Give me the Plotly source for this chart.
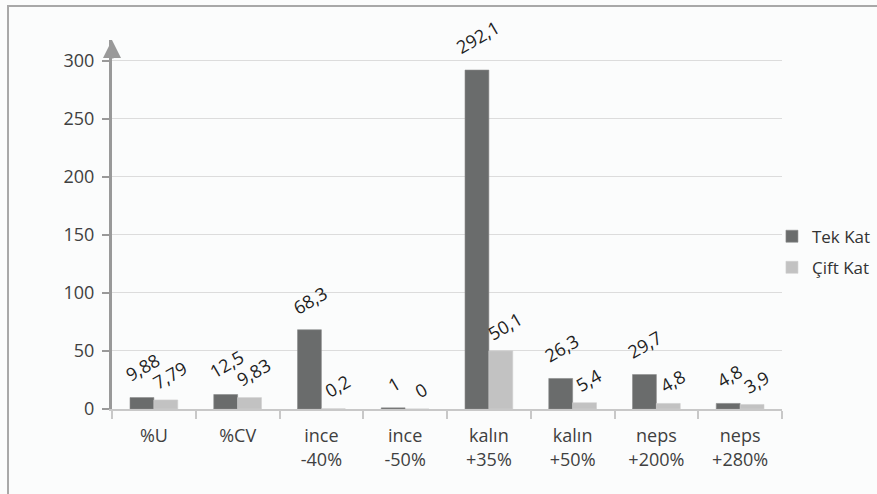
import plotly.graph_objects as go

categories = ["%U", "%CV", "ince<br>-40%", "ince<br>-50%", "kalın<br>+35%",
              "kalın<br>+50%", "neps<br>+200%", "neps<br>+280%"]
tek_kat = [9.88, 12.5, 68.3, 1, 292.1, 26.3, 29.7, 4.8]
cift_kat = [7.79, 9.83, 0.2, 0, 50.1, 5.4, 4.8, 3.9]
y_ticks = [0, 50, 100, 150, 200, 250, 300]


def fmt(v):
    return f"{v:g}".replace(".", ",")


FONT = "Open Sans, Noto Sans, sans-serif"
LABEL_FONT = dict(size=18, color="#1e1e1e", family=FONT)

fig = go.Figure()
fig.add_trace(go.Bar(
    name="Tek Kat", x=categories, y=tek_kat,
    marker=dict(color="#6a6c6c", line=dict(color="#8a8c8c", width=0.6)),
    legendgroup="a",
))
fig.add_trace(go.Bar(
    name="Çift Kat", x=categories, y=cift_kat,
    marker=dict(color="#c2c2c2", line=dict(color="#d0d0d0", width=0.6)),
    legendgroup="b",
))

# rotated value labels above each bar (x offset, y offset in px)
for series, dx, dy in ((tek_kat, -11, 8), (cift_kat, 16, 3)):
    for cat, v in zip(categories, series):
        fig.add_annotation(
            x=cat, y=v, xref="x", yref="y", text=fmt(v), showarrow=False,
            textangle=-30, xanchor="center", yanchor="bottom",
            xshift=dx, yshift=dy, font=LABEL_FONT,
        )

fig.update_layout(
    width=877, height=494,
    margin=dict(l=112, r=95, t=40, b=85, autoexpand=False),
    paper_bgcolor="#fbfcfc", plot_bgcolor="#fbfcfc",
    barmode="group", bargap=0.43, bargroupgap=0,
    font=dict(family=FONT, size=18, color="#404040"),
    legend=dict(x=0.985, y=0.425, xanchor="left", yanchor="middle",
                font=dict(size=17, color="#333333"),
                traceorder="grouped", tracegroupgap=6,
                itemwidth=30,
                bgcolor="rgba(0,0,0,0)"),
    showlegend=True,
)
fig.update_xaxes(
    showline=True, linecolor="#c8c8c8", linewidth=1.5,
    ticks="outside", tickson="boundaries", ticklen=8, tickcolor="#c8c8c8",
    tickwidth=1.5, showgrid=False, ticklabelstandoff=10,
    tickfont=dict(size=18, color="#404040"),
)
fig.update_yaxes(
    range=[0, 318], tickvals=y_ticks, ticktext=[str(t) for t in y_ticks],
    showline=True, linecolor="#999999", linewidth=3,
    ticks="outside", ticklen=7, tickcolor="#999999", tickwidth=1.5,
    showgrid=True, gridcolor="#dcdcdc", gridwidth=1, zeroline=False,
    ticklabelstandoff=4,
    tickfont=dict(size=18, color="#404040"),
)

# arrow head at top of value axis
fig.add_annotation(
    x=0, y=1, xref="paper", yref="paper", ax=0, ay=20, axref="pixel", ayref="pixel",
    text="", showarrow=True, arrowhead=2, arrowsize=1.2, arrowwidth=3,
    arrowcolor="#999999",
)

# outer frame
fig.add_shape(
    type="rect", xref="paper", yref="paper",
    x0=-0.1552, x1=1.4, y0=-0.6, y1=1.0921,
    line=dict(color="#a8a8a8", width=2), layer="below",
)

fig.write_html("out.html")
